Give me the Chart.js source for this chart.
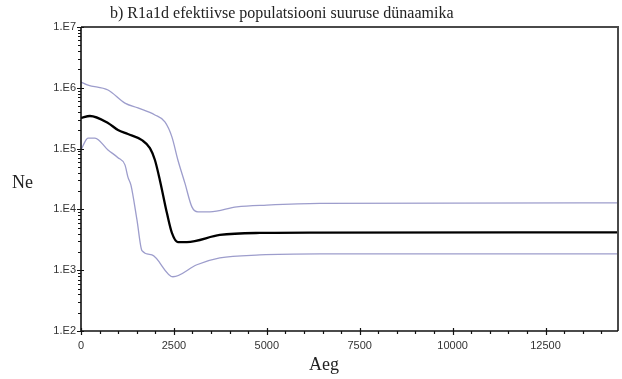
<!DOCTYPE html>
<html>
<head>
<meta charset="utf-8">
<script src="https://cdn.jsdelivr.net/npm/chart.js@4/dist/chart.umd.min.js"></script>
<style>
  html, body { margin: 0; padding: 0; background: #fff; }
  #wrap { width: 622px; height: 379px; position: relative; }
</style>
</head>
<body>
<div id="wrap"><canvas id="c" width="622" height="379"></canvas></div>
<script>
// Bayesian skyline: effective population size (Ne) through time (Aeg, years)
const medianAge = [0, 242, 726, 995, 1263, 1640, 1855, 1989, 2124, 2312, 2446, 2607, 2849, 3736, 4811, 6424, 14450];
const medianNe  = [3.18e5, 3.44e5, 2.64e5, 2.02e5, 1.74e5, 1.38e5, 1.02e5, 6.5e4, 3.0e4, 8.7e3, 4.1e3, 2.9e3, 2.9e3, 3.8e3, 4.1e3, 4.15e3, 4.2e3];

const upperAge = [0, 188, 726, 1183, 1532, 1989, 2258, 2446, 2607, 2796, 2984, 3145, 3468, 4193, 5000, 6424, 14450];
const upperNe  = [1.24e6, 1.11e6, 9.2e5, 5.6e5, 4.66e5, 3.57e5, 2.75e5, 1.56e5, 6.5e4, 2.7e4, 1.1e4, 9.1e3, 9.1e3, 1.1e4, 1.18e4, 1.26e4, 1.28e4];

const lowerAge = [0, 188, 376, 726, 995, 1183, 1263, 1344, 1505, 1640, 1908, 2473, 3118, 3736, 4811, 6424, 14450];
const lowerNe  = [9.5e4, 1.49e5, 1.49e5, 9.5e4, 7.1e4, 5.4e4, 3.4e4, 2.5e4, 6.8e3, 2.1e3, 1.78e3, 7.8e2, 1.23e3, 1.59e3, 1.78e3, 1.85e3, 1.85e3];

const xTickValues = [0, 2500, 5000, 7500, 10000, 12500];
const yTickExponents = [2, 3, 4, 5, 6, 7];

const titleText = 'b) R1a1d efektiivse populatsiooni suuruse dünaamika';
const yLabel = 'Ne';
const xLabel = 'Aeg';

const toPoints = (xs, ys) => xs.map((x, i) => ({ x, y: ys[i] }));

const serif = '"Liberation Serif", "DejaVu Serif", serif';
const sans = '"Liberation Sans", Arial, sans-serif';

// Frame, crossing tick marks and free-standing texts
const decorations = {
  id: 'decorations',
  afterDraw(chart) {
    const { ctx, chartArea: a, scales } = chart;
    const xs = scales.x, ys = scales.y;
    ctx.save();
    // frame (top & right darker grey)
    ctx.strokeStyle = '#4a4a4a';
    ctx.lineWidth = 2;
    ctx.beginPath();
    ctx.moveTo(a.left, a.top);
    ctx.lineTo(a.right, a.top);
    ctx.lineTo(a.right, a.bottom);
    ctx.stroke();
    // axis lines
    ctx.strokeStyle = '#111';
    ctx.lineWidth = 1.6;
    ctx.beginPath();
    ctx.moveTo(a.left, a.top);
    ctx.lineTo(a.left, a.bottom);
    ctx.lineTo(a.right, a.bottom);
    ctx.stroke();

    ctx.lineWidth = 1.2;
    ctx.beginPath();
    // y ticks: decades and minor steps
    for (let k = 2; k <= 7; k++) {
      for (let m = 1; m <= (k === 7 ? 1 : 9); m++) {
        const py = Math.round(ys.getPixelForValue(m * Math.pow(10, k))) + 0.5;
        if (m === 1) { ctx.moveTo(a.left - 4, py); ctx.lineTo(a.left + 3, py); }
        else { ctx.moveTo(a.left - 3, py); ctx.lineTo(a.left, py); }
      }
    }
    // x ticks every 500
    for (let v = 0; v <= xs.max; v += 500) {
      const px = Math.round(xs.getPixelForValue(v)) + 0.5;
      if (v % 2500 === 0) { ctx.moveTo(px, a.bottom - 3); ctx.lineTo(px, a.bottom + 4); }
      else { ctx.moveTo(px, a.bottom); ctx.lineTo(px, a.bottom + 3); }
    }
    ctx.stroke();

    // texts
    ctx.fillStyle = '#222';
    ctx.textBaseline = 'middle';
    ctx.textAlign = 'left';
    ctx.font = '16px ' + serif;
    ctx.fillText(titleText, 110, 14);
    ctx.font = '18px ' + serif;
    ctx.fillText(yLabel, 12, 183);
    ctx.fillText(xLabel, 309, 365);
    ctx.restore();
  }
};

const lineDs = (label, xs, ys, color, width) => ({
  label,
  data: toPoints(xs, ys),
  borderColor: color,
  borderWidth: width,
  pointRadius: 0,
  fill: false,
  cubicInterpolationMode: 'monotone'
});

new Chart(document.getElementById('c'), {
  type: 'line',
  data: {
    datasets: [
      lineDs('95% HPD ülemine', upperAge, upperNe, '#9d9dcc', 1.3),
      lineDs('95% HPD alumine', lowerAge, lowerNe, '#9d9dcc', 1.3),
      lineDs('mediaan', medianAge, medianNe, '#000000', 2.3)
    ]
  },
  plugins: [decorations],
  options: {
    responsive: false,
    animation: false,
    layout: { padding: { left: 0, top: 27, right: 4, bottom: 0 } },
    plugins: { legend: { display: false }, tooltip: { enabled: false }, title: { display: false } },
    scales: {
      x: {
        type: 'linear',
        min: 0,
        max: 14450,
        afterBuildTicks: s => { s.ticks = xTickValues.map(v => ({ value: v })); },
        afterFit: s => { s.height = 48; },
        grid: { display: false, drawTicks: false },
        border: { display: false },
        ticks: { color: '#333', font: { family: sans, size: 11 }, padding: 8, maxRotation: 0, callback: v => String(v) }
      },
      y: {
        type: 'logarithmic',
        min: 100,
        max: 1e7,
        afterBuildTicks: s => { s.ticks = yTickExponents.map(k => ({ value: Math.pow(10, k) })); },
        afterFit: s => { s.width = 81; },
        grid: { display: false, drawTicks: false },
        border: { display: false },
        ticks: { color: '#333', font: { family: sans, size: 11 }, padding: 5, callback: v => '1.E' + Math.round(Math.log10(v)) }
      }
    }
  }
});
</script>
</body>
</html>
